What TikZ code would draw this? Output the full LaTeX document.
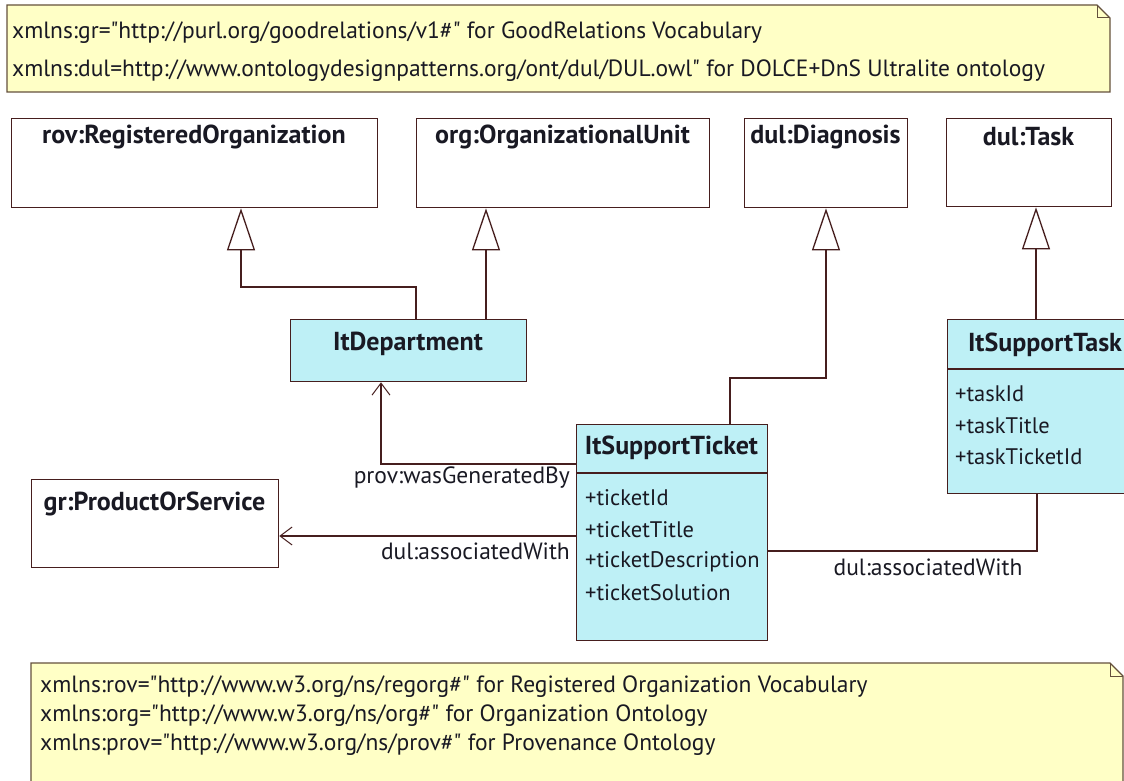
\documentclass[tikz,border=0pt]{standalone}
\usepackage{fontspec}
\setmainfont{PT Sans}
\usetikzlibrary{arrows.meta}
\definecolor{ln}{RGB}{70,30,30}
\definecolor{cls}{RGB}{190,240,246}
\definecolor{nt}{RGB}{255,255,198}
\definecolor{ntb}{RGB}{100,80,60}
\definecolor{tx}{RGB}{25,25,35}
\newcommand{\qq}{\textquotedbl}
\begin{document}
\begin{tikzpicture}[x=1pt,y=-1pt,
  box/.style={draw=ln, line width=1.3pt, fill=white, anchor=north west, inner sep=0pt},
  cbox/.style={box, fill=cls},
  ttl/.style={font=\fontsize{26}{30}\selectfont\bfseries, text=tx, inner sep=0pt},
  attr/.style={font=\fontsize{22.5}{26}\selectfont, text=tx, inner sep=0pt, anchor=west},
  lbl/.style={font=\fontsize{23.5}{27}\selectfont, text=tx, inner sep=0pt},
  ntxt/.style={font=\fontsize{23.5}{27}\selectfont, text=tx, inner sep=0pt, anchor=west},
  notebox/.style={draw=ntb, line width=1.2pt, fill=nt},
  conn/.style={draw=ln, line width=1.3pt},
  gen/.style={conn, -{Triangle[open, length=42pt, width=28pt, fill=white]}},
  assoc/.style={conn, -{Straight Barb[length=12pt, width=18pt, line width=1pt]}}
]
\clip (0,0) rectangle (1124,781);
\fill[white] (0,0) rectangle (1124,781);

% top note
\draw[notebox] (7,5) -- (1097,5) -- (1110,18) -- (1110,92) -- (7,92) -- cycle;
\draw[draw=ntb, line width=1pt] (1097,5) -- (1097,18) -- (1110,18);
\node[ntxt] (n1) at (12,33) {xmlns:gr=\qq http://purl.org/goodrelations/v1\#\qq{} for GoodRelations Vocabulary};
\node[ntxt] (n2) at (12,71) {xmlns:dul=http://www.ontologydesignpatterns.org/ont/dul/DUL.owl\qq{} for DOLCE+DnS Ultralite ontology};

% upper classes
\node[box, minimum width=366pt, minimum height=89pt] (rov) at (11,118) {};
\node[ttl] (rovt) at (194,137) {rov:RegisteredOrganization};
\node[box, minimum width=293pt, minimum height=89pt] (org) at (416,118) {};
\node[ttl] (orgt) at (562.5,137) {org:OrganizationalUnit};
\node[box, minimum width=163pt, minimum height=89pt] (diag) at (744,118) {};
\node[ttl] (diagt) at (825.5,137) {dul:Diagnosis};
\node[box, minimum width=165pt, minimum height=88pt] (task) at (946,118) {};
\node[ttl] (taskt) at (1028.5,137) {dul:Task};

% ItDepartment
\node[cbox, minimum width=236pt, minimum height=62pt] (itd) at (290,319) {};
\node[ttl] (itdt) at (408,344) {ItDepartment};

% gr:ProductOrService
\node[box, minimum width=247pt, minimum height=88pt] (gr) at (31,479) {};
\node[ttl] (grt) at (154.5,504) {gr:ProductOrService};

% ItSupportTicket
\node[cbox, minimum width=191pt, minimum height=216pt] (tk) at (576,424) {};
\draw[conn] (576,473) -- (767,473);
\node[ttl] (tkt) at (671.5,448) {ItSupportTicket};
\node[attr] (a1) at (585,498) {+ticketId};
\node[attr] (a2) at (585,530) {+ticketTitle};
\node[attr] (a3) at (585,562) {+ticketDescription};
\node[attr] (a4) at (585,593) {+ticketSolution};

% ItSupportTask
\node[cbox, minimum width=192pt, minimum height=174pt] (its) at (947,319) {};
\draw[conn] (947,369) -- (1139,369);
\node[ttl] (itst) at (1045,345) {ItSupportTask};
\node[attr] (b1) at (955,394) {+taskId};
\node[attr] (b2) at (955,426) {+taskTitle};
\node[attr] (b3) at (955,457) {+taskTicketId};

% helper coordinates
\coordinate (xo1) at (416,0);
\coordinate (xo2) at (486,0);
\coordinate (xr) at (241,287);
\coordinate (xd1) at (730,0);
\coordinate (xd2) at (826,378);
\coordinate (xt) at (1036,0);
\coordinate (yp) at (0,464);
\coordinate (xp) at (381,0);
\coordinate (yd) at (0,536);
\coordinate (xa) at (1037,0);
\coordinate (ya) at (0,551);

% generalizations
\draw[gen] (itd.north -| xo1) |- (xr) -- (rov.south -| xr);
\draw[gen] (itd.north -| xo2) -- (org.south -| xo2);
\draw[gen] (tk.north -| xd1) |- (xd2) -- (diag.south -| xd2);
\draw[gen] (its.north -| xt) -- (task.south -| xt);

% associations
\draw[assoc] (tk.west |- yp) -| (itd.south -| xp);
\draw[assoc] (tk.west |- yd) -- (gr.east |- yd);
\draw[conn] (its.south -| xa) |- (tk.east |- ya);
\node[lbl, anchor=east] (l1) at (570,478) {prov:wasGeneratedBy};
\node[lbl, anchor=east] (l2) at (570,551) {dul:associatedWith};
\node[lbl] (l3) at (928,567) {dul:associatedWith};

% bottom note
\draw[notebox] (31,663) -- (1110,663) -- (1123,676) -- (1123,800) -- (31,800) -- cycle;
\draw[draw=ntb, line width=1pt] (1110,663) -- (1110,676) -- (1123,676);
\node[ntxt] (m1) at (40,687) {xmlns:rov=\qq http://www.w3.org/ns/regorg\#\qq{} for Registered Organization Vocabulary};
\node[ntxt] (m2) at (40,716) {xmlns:org=\qq http://www.w3.org/ns/org\#\qq{} for Organization Ontology};
\node[ntxt] (m3) at (40,745) {xmlns:prov=\qq http://www.w3.org/ns/prov\#\qq{} for Provenance Ontology};
\end{tikzpicture}
\end{document}
